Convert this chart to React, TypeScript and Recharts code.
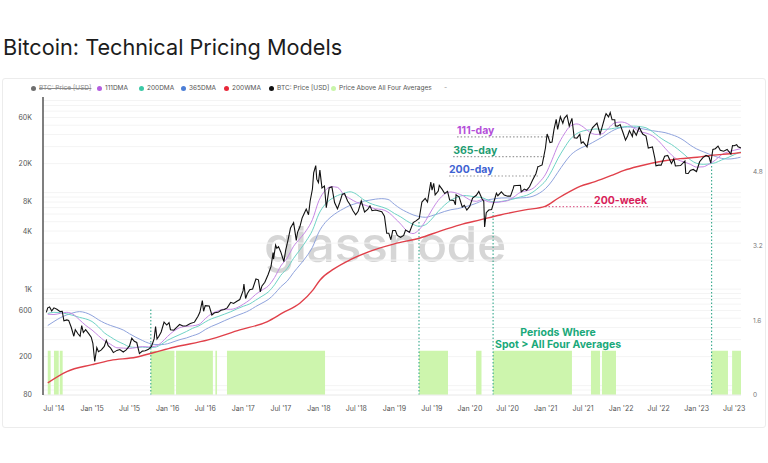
import React from 'react';
import {
  ComposedChart,
  Line,
  Area,
  XAxis,
  YAxis,
  CartesianGrid,
  ReferenceLine,
  ReferenceDot,
} from 'recharts';

const W = 768;
const H = 463;

const X_START = '2014-05-09';
const X_END = '2023-08-03';

const X_TICKS = [
  '2014-07-01', '2015-01-01', '2015-07-01', '2016-01-01', '2016-07-01', '2017-01-01', '2017-07-01',
  '2018-01-01', '2018-07-01', '2019-01-01', '2019-07-01', '2020-01-01', '2020-07-01', '2021-01-01',
  '2021-07-01', '2022-01-01', '2022-07-01', '2023-01-01', '2023-07-01',
];
const PRICE_TICKS = [80, 200, 600, 1000, 4000, 8000, 20000, 60000];
const IND_TICKS = [0, 1.6, 3.2, 4.8];
const GRID_VALUES = [
  80, 90, 100, 200, 300, 400, 500, 600, 700, 800, 900, 1000, 2000, 3000, 4000, 5000, 6000, 7000,
  8000, 9000, 10000, 20000, 30000, 40000, 50000, 60000, 70000, 80000, 90000,
];

// BTC daily-ish close
const priceSeries: [string, number][] = [
  ['2014-05-25', 575], ['2014-06-01', 640], ['2014-06-10', 655], ['2014-06-20', 595], ['2014-07-01', 640],
  ['2014-07-15', 620], ['2014-07-31', 585], ['2014-08-10', 590], ['2014-08-18', 470], ['2014-09-01', 480],
  ['2014-09-10', 475], ['2014-09-22', 405], ['2014-10-05', 325], ['2014-10-12', 380], ['2014-10-25', 345],
  ['2014-11-04', 325], ['2014-11-12', 420], ['2014-11-20', 355], ['2014-12-01', 380], ['2014-12-15', 348],
  ['2014-12-28', 318], ['2015-01-05', 275], ['2015-01-14', 178], ['2015-01-24', 248], ['2015-02-01', 225],
  ['2015-02-15', 235], ['2015-03-01', 255], ['2015-03-11', 295], ['2015-03-20', 260], ['2015-04-01', 245],
  ['2015-04-14', 220], ['2015-05-01', 232], ['2015-05-15', 237], ['2015-06-01', 223], ['2015-06-15', 235],
  ['2015-07-01', 258], ['2015-07-12', 310], ['2015-07-24', 288], ['2015-08-05', 280], ['2015-08-18', 215],
  ['2015-09-01', 228], ['2015-09-15', 230], ['2015-10-01', 238], ['2015-10-15', 255], ['2015-10-28', 305],
  ['2015-11-04', 410], ['2015-11-11', 305], ['2015-11-20', 325], ['2015-12-01', 360], ['2015-12-15', 455],
  ['2015-12-28', 425], ['2016-01-08', 450], ['2016-01-15', 380], ['2016-01-31', 375], ['2016-02-15', 405],
  ['2016-02-28', 430], ['2016-03-15', 415], ['2016-04-01', 418], ['2016-04-20', 440], ['2016-05-10', 455],
  ['2016-05-27', 525], ['2016-06-05', 575], ['2016-06-17', 760], ['2016-06-23', 590], ['2016-07-01', 675],
  ['2016-07-20', 670], ['2016-08-02', 540], ['2016-08-15', 570], ['2016-09-01', 575], ['2016-09-15', 605],
  ['2016-10-01', 615], ['2016-10-15', 640], ['2016-11-01', 730], ['2016-11-15', 710], ['2016-12-01', 750],
  ['2016-12-15', 780], ['2016-12-31', 965], ['2017-01-04', 1130], ['2017-01-12', 800], ['2017-01-20', 895],
  ['2017-02-01', 985], ['2017-02-15', 1005], ['2017-03-03', 1275], ['2017-03-15', 1250], ['2017-03-24', 940],
  ['2017-04-01', 1080], ['2017-04-15', 1180], ['2017-05-01', 1420], ['2017-05-15', 1720], ['2017-05-25', 2400],
  ['2017-05-27', 2050], ['2017-06-06', 2860], ['2017-06-12', 2650], ['2017-06-20', 2760], ['2017-07-01', 2430],
  ['2017-07-16', 1930], ['2017-07-25', 2550], ['2017-08-05', 3230], ['2017-08-17', 4300], ['2017-09-01', 4900],
  ['2017-09-14', 3200], ['2017-09-20', 3880], ['2017-10-01', 4400], ['2017-10-12', 5450], ['2017-10-21', 6000],
  ['2017-11-01', 6750], ['2017-11-12', 5900], ['2017-11-20', 8200], ['2017-12-01', 10900], ['2017-12-07', 16000],
  ['2017-12-17', 19100], ['2017-12-22', 13800], ['2017-12-30', 12700], ['2018-01-06', 17100], ['2018-01-16', 11200],
  ['2018-01-28', 11700], ['2018-02-06', 7000], ['2018-02-20', 11200], ['2018-03-05', 11500], ['2018-03-18', 7900],
  ['2018-04-01', 6800], ['2018-04-12', 7900], ['2018-04-24', 9600], ['2018-05-05', 9800], ['2018-05-20', 8200],
  ['2018-06-01', 7500], ['2018-06-15', 6500], ['2018-06-28', 5900], ['2018-07-10', 6400], ['2018-07-25', 8200],
  ['2018-08-10', 6300], ['2018-08-25', 6700], ['2018-09-05', 7300], ['2018-09-15', 6500], ['2018-10-01', 6600],
  ['2018-10-15', 6500], ['2018-11-01', 6350], ['2018-11-14', 5700], ['2018-11-25', 3800], ['2018-12-05', 3800],
  ['2018-12-15', 3250], ['2018-12-24', 4050], ['2019-01-06', 4050], ['2019-01-15', 3600], ['2019-01-31', 3450],
  ['2019-02-15', 3600], ['2019-02-24', 4100], ['2019-03-15', 3900], ['2019-04-02', 4900], ['2019-04-15', 5100],
  ['2019-05-01', 5400], ['2019-05-14', 8000], ['2019-05-30', 8700], ['2019-06-10', 8000], ['2019-06-26', 12900],
  ['2019-07-02', 10600], ['2019-07-10', 12500], ['2019-07-17', 9500], ['2019-08-01', 10400], ['2019-08-06', 11900],
  ['2019-08-20', 10800], ['2019-09-01', 9800], ['2019-09-15', 10300], ['2019-09-25', 8400], ['2019-10-15', 8300],
  ['2019-10-23', 7500], ['2019-10-26', 9500], ['2019-11-10', 9000], ['2019-11-25', 7100], ['2019-12-05', 7400],
  ['2019-12-17', 6600], ['2019-12-31', 7200], ['2020-01-14', 8800], ['2020-02-01', 9400], ['2020-02-13', 10300],
  ['2020-02-28', 8700], ['2020-03-08', 8100], ['2020-03-12', 4400], ['2020-03-20', 6200], ['2020-04-01', 6600],
  ['2020-04-15', 6700], ['2020-04-30', 8600], ['2020-05-08', 9900], ['2020-05-15', 9300], ['2020-06-01', 10200],
  ['2020-06-15', 9450], ['2020-07-01', 9200], ['2020-07-15', 9200], ['2020-07-28', 11000], ['2020-08-01', 11800],
  ['2020-08-15', 11850], ['2020-09-01', 11900], ['2020-09-05', 10200], ['2020-09-20', 10900], ['2020-10-01', 10600],
  ['2020-10-15', 11500], ['2020-10-30', 13500], ['2020-11-15', 15700], ['2020-11-25', 18700], ['2020-12-01', 18800],
  ['2020-12-15', 19400], ['2020-12-31', 29000], ['2021-01-08', 40500], ['2021-01-15', 36800], ['2021-01-22', 33000],
  ['2021-02-01', 33500], ['2021-02-10', 44800], ['2021-02-21', 57500], ['2021-02-28', 45200], ['2021-03-13', 61200],
  ['2021-03-25', 52300], ['2021-04-01', 59000], ['2021-04-14', 63500], ['2021-04-25', 49000], ['2021-05-08', 58800],
  ['2021-05-12', 49500], ['2021-05-19', 37000], ['2021-06-01', 36700], ['2021-06-15', 40200], ['2021-06-22', 32500],
  ['2021-07-01', 33600], ['2021-07-20', 29800], ['2021-08-01', 39900], ['2021-08-15', 47000], ['2021-09-06', 52700],
  ['2021-09-21', 40600], ['2021-10-01', 48000], ['2021-10-15', 61500], ['2021-10-20', 66000], ['2021-11-01', 61000],
  ['2021-11-09', 67500], ['2021-11-18', 56900], ['2021-12-01', 57000], ['2021-12-04', 49000], ['2021-12-15', 48900],
  ['2021-12-27', 50700], ['2022-01-10', 41800], ['2022-01-22', 35000], ['2022-02-01', 38700], ['2022-02-10', 44000],
  ['2022-02-24', 38300], ['2022-03-01', 44400], ['2022-03-15', 39300], ['2022-03-29', 47400], ['2022-04-15', 40500],
  ['2022-05-01', 38500], ['2022-05-12', 29000], ['2022-06-01', 29800], ['2022-06-13', 22500], ['2022-06-18', 19000],
  ['2022-07-01', 19300], ['2022-07-13', 19300], ['2022-07-30', 23800], ['2022-08-14', 24300], ['2022-09-01', 20100],
  ['2022-09-12', 22400], ['2022-09-20', 18900], ['2022-10-15', 19100], ['2022-11-05', 21300], ['2022-11-09', 15900],
  ['2022-11-21', 15800], ['2022-12-01', 17000], ['2022-12-15', 17400], ['2022-12-31', 16550], ['2023-01-15', 20900],
  ['2023-01-31', 23100], ['2023-02-15', 24300], ['2023-03-01', 23600], ['2023-03-10', 20200], ['2023-03-20', 28000],
  ['2023-04-01', 28500], ['2023-04-14', 30400], ['2023-04-25', 27500], ['2023-05-11', 26900], ['2023-05-28', 28000],
  ['2023-06-15', 25100], ['2023-06-23', 30700], ['2023-07-01', 30600], ['2023-07-13', 31400], ['2023-07-20', 29900],
  ['2023-07-31', 29200], ['2023-08-03', 29100],
];

// monthly samples for the daily moving averages
const maMonths = [
  '2014-06', '2014-07', '2014-08', '2014-09', '2014-10', '2014-11', '2014-12',
  '2015-01', '2015-02', '2015-03', '2015-04', '2015-05', '2015-06', '2015-07', '2015-08', '2015-09', '2015-10', '2015-11', '2015-12',
  '2016-01', '2016-02', '2016-03', '2016-04', '2016-05', '2016-06', '2016-07', '2016-08', '2016-09', '2016-10', '2016-11', '2016-12',
  '2017-01', '2017-02', '2017-03', '2017-04', '2017-05', '2017-06', '2017-07', '2017-08', '2017-09', '2017-10', '2017-11', '2017-12',
  '2018-01', '2018-02', '2018-03', '2018-04', '2018-05', '2018-06', '2018-07', '2018-08', '2018-09', '2018-10', '2018-11', '2018-12',
  '2019-01', '2019-02', '2019-03', '2019-04', '2019-05', '2019-06', '2019-07', '2019-08', '2019-09', '2019-10', '2019-11', '2019-12',
  '2020-01', '2020-02', '2020-03', '2020-04', '2020-05', '2020-06', '2020-07', '2020-08', '2020-09', '2020-10', '2020-11', '2020-12',
  '2021-01', '2021-02', '2021-03', '2021-04', '2021-05', '2021-06', '2021-07', '2021-08', '2021-09', '2021-10', '2021-11', '2021-12',
  '2022-01', '2022-02', '2022-03', '2022-04', '2022-05', '2022-06', '2022-07', '2022-08', '2022-09', '2022-10', '2022-11', '2022-12',
  '2023-01', '2023-02', '2023-03', '2023-04', '2023-05', '2023-06', '2023-07', '2023-08',
];

const dma111 = [
  550, 546, 562, 575, 550, 482, 422,
  377, 329, 293, 268, 247, 245, 243, 248, 254, 252, 256, 278,
  324, 369, 400, 412, 417, 431, 494, 558, 595, 620, 618, 641,
  698, 775, 879, 976, 1076, 1320, 1735, 2105, 2782, 3330, 4040, 5251,
  8235, 10550, 11535, 11350, 9595, 8662, 7973, 7549, 7176, 6800, 6695, 6295,
  5492, 4716, 4040, 3768, 4146, 5119, 6612, 8316, 9651, 10165, 9816, 9241,
  8395, 8130, 8473, 8030, 7914, 8051, 8257, 9038, 10084, 10446, 11086, 12781,
  15565, 21900, 30743, 40592, 49095, 51540, 48095, 42432, 40135, 40719, 46705, 52878,
  53935, 51824, 47068, 42932, 41419, 38854, 34359, 28905, 24584, 21932, 20843, 19681,
  18395, 18519, 19708, 21757, 24714, 26427, 27486, 28549,
];

const dma200 = [
  560, 575, 570, 555, 535, 510, 492,
  462, 406, 353, 319, 291, 271, 253, 249, 251, 248, 250, 267,
  295, 318, 339, 364, 393, 417, 457, 494, 520, 550, 583, 624,
  665, 703, 767, 844, 932, 1111, 1391, 1642, 2088, 2547, 3162, 4062,
  6009, 7591, 8567, 9327, 9836, 10203, 9652, 8576, 7833, 7424, 7112, 6712,
  6088, 5600, 5109, 4698, 4477, 4659, 5344, 6389, 7450, 8359, 8964, 9345,
  9224, 9009, 8867, 8285, 7976, 8106, 8330, 8612, 9033, 9379, 10155, 11436,
  13303, 17085, 22473, 29018, 35961, 41000, 43609, 44742, 45712, 45167, 45470, 46606,
  47664, 48618, 48924, 48361, 47000, 42924, 38136, 34394, 31573, 28324, 24970, 21936,
  20136, 19661, 19873, 20406, 21797, 23115, 24697, 26488,
];

const dma365 = [
  420, 462, 506, 541, 568, 585, 570,
  532, 482, 447, 420, 400, 377, 345, 317, 294, 276, 267, 266,
  272, 286, 300, 312, 329, 347, 381, 412, 439, 470, 502, 533,
  564, 605, 659, 716, 780, 895, 1059, 1212, 1489, 1780, 2160, 2717,
  3900, 4908, 5613, 6271, 6829, 7383, 7733, 8117, 8350, 8558, 8667, 8508,
  7567, 6792, 6308, 5888, 5654, 5554, 5763, 6054, 6388, 6654, 6813, 7063,
  7363, 7754, 8254, 8467, 8642, 8808, 8825, 8742, 8825, 8900, 9192, 9858,
  11058, 13233, 16258, 20258, 24408, 27550, 29742, 31800, 34617, 37542, 41342, 45008,
  47325, 47908, 47475, 46425, 45133, 43867, 42925, 41867, 39958, 37792, 34633, 31058,
  28350, 26575, 25125, 23717, 22667, 22308, 22583, 23292,
];

const wma200: [string, number][] = [
  ['2014-06-01', 107], ['2014-09-01', 140], ['2015-01-01', 165], ['2015-04-01', 183], ['2015-08-01', 197],
  ['2015-11-01', 222], ['2016-02-01', 250], ['2016-07-15', 298], ['2016-12-15', 378], ['2017-04-25', 459],
  ['2017-07-12', 570], ['2017-10-01', 714], ['2017-12-04', 982], ['2018-01-07', 1246], ['2018-03-15', 1620],
  ['2018-05-31', 2008], ['2018-09-01', 2450], ['2019-01-01', 2950], ['2019-05-05', 3390], ['2019-08-10', 4000],
  ['2019-11-14', 4640], ['2020-02-19', 5217], ['2020-05-26', 5870], ['2020-09-24', 6624], ['2020-12-29', 7200],
  ['2021-02-28', 8700], ['2021-04-29', 10300], ['2021-06-16', 11600], ['2021-08-28', 13000], ['2021-11-23', 15300],
  ['2022-01-15', 17000], ['2022-04-01', 18900], ['2022-07-22', 21300], ['2022-10-13', 22500], ['2023-01-03', 23300],
  ['2023-03-21', 24500], ['2023-06-11', 25300], ['2023-08-03', 26000],
];

// spans where price sat above all four averages
const aboveAllSpans: [string, string][] = [
  ['2014-06-01', '2014-06-15'], ['2014-07-01', '2014-07-24'], ['2014-07-29', '2014-08-12'],
  ['2015-10-12', '2016-02-03'], ['2016-02-11', '2016-08-07'], ['2016-08-19', '2016-08-27'],
  ['2016-10-14', '2018-01-31'], ['2019-04-30', '2019-09-17'], ['2020-01-31', '2020-02-26'],
  ['2020-04-22', '2021-05-08'], ['2021-08-08', '2021-09-21'], ['2021-09-30', '2021-12-07'],
  ['2023-03-14', '2023-06-01'], ['2023-06-21', '2023-08-03'],
];
const ABOVE_LEVEL = 0.95;

// dotted markers: [date, top price]
const breakoutLines: [string, number][] = [
  ['2015-10-12', 640], ['2019-04-30', 5100], ['2020-04-22', 6300], ['2023-03-14', 19300],
];

// horizontal callouts: label, colour, line colour, from, to, price, label date
const callouts: [string, string, string, string, string, number, string][] = [
  ['111-day', '#b44fd9', '#9a9a9a', '2019-10-31', '2021-02-01', 37800, '2019-10-31'],
  ['365-day', '#1e9c72', '#9a9a9a', '2019-10-12', '2020-12-29', 23600, '2019-10-12'],
  ['200-day', '#3f63d2', '#9a9a9a', '2019-09-22', '2020-12-05', 14900, '2019-09-22'],
  ['200-week', '#d81e5b', '#e06b95', '2020-12-29', '2022-05-16', 7170, '2021-08-23'],
];

const legendItems: [string, string, boolean][] = [
  ['BTC: Price [USD]', '#6f6f6f', true],
  ['111DMA', '#b45ee0', false],
  ['200DMA', '#3cc9a6', false],
  ['365DMA', '#4d7fd6', false],
  ['200WMA', '#e8283a', false],
  ['BTC: Price [USD]', '#111111', false],
  ['Price Above All Four Averages', '#c9f5a9', false],
];
const LEGEND_X = [33, 99, 141, 183, 226, 271, 333];

const toT = (s: string) => Date.parse(s.length === 7 ? s + '-01' : s);

const priceData = priceSeries.map(([s, v]) => ({ t: toT(s), v }));
const maData = maMonths.map((m, i) => ({ t: toT(m), a111: dma111[i], a200: dma200[i], a365: dma365[i] }));
const wmaData = wma200.map(([s, v]) => ({ t: toT(s), v }));
const aboveData = [{ t: toT(X_START), v: 0 }];
aboveAllSpans.forEach(([a, b]) => {
  aboveData.push({ t: toT(a), v: ABOVE_LEVEL });
  aboveData.push({ t: toT(b), v: 0 });
});

const fmtDate = (v: number) => {
  const dt = new Date(v);
  return `${dt.getUTCMonth() === 0 ? 'Jan' : 'Jul'} '${String(dt.getUTCFullYear()).slice(2)}`;
};
const fmtPrice = (v: number) => (v >= 1000 ? `${v / 1000}K` : `${v}`);

const axisTick = { fontSize: 7, fill: '#555' };

export default function App() {
  return (
    <div
      style={{
        position: 'relative',
        width: W,
        height: H,
        background: '#fff',
        overflow: 'hidden',
        fontFamily: 'Inter, "Noto Sans", sans-serif',
      }}
    >
      <style>{'body{margin:0}'}</style>
      <div
        style={{
          position: 'absolute',
          left: 3,
          top: 36,
          fontSize: 21.7,
          lineHeight: '22px',
          color: '#1c1c1c',
          whiteSpace: 'nowrap',
        }}
      >
        Bitcoin: Technical Pricing Models
      </div>

      {/* chart card */}
      <div
        style={{
          position: 'absolute',
          left: 2,
          top: 78,
          width: 764,
          height: 350,
          border: '1px solid #ececec',
          borderRadius: 3,
          boxSizing: 'border-box',
        }}
      />

      {/* legend */}
      {legendItems.map(([label, color, off], i) => (
        <div
          key={i}
          style={{
            position: 'absolute',
            left: LEGEND_X[i] - 2.5,
            top: 84,
            height: 8,
            display: 'flex',
            alignItems: 'center',
            fontSize: 6.5,
            color: off ? '#8a8a8a' : '#555',
            whiteSpace: 'nowrap',
          }}
        >
          <span
            style={{ width: 5, height: 5, borderRadius: '50%', background: color, marginRight: 3.5, flex: 'none' }}
          />
          <span style={{ textDecoration: off ? 'line-through' : 'none' }}>{label}</span>
        </div>
      ))}
      <div style={{ position: 'absolute', left: 444, top: 83, fontSize: 7, color: '#999' }}>-</div>

      {/* watermark */}
      <div
        style={{
          position: 'absolute',
          left: 264,
          top: 219,
          fontSize: 50,
          lineHeight: '50px',
          fontWeight: 500,
          color: '#d6d6d6',
          letterSpacing: -0.5,
        }}
      >
        glassnode
      </div>

      <div style={{ position: 'absolute', left: 0, top: 0 }}>
        <ComposedChart width={W} height={H} margin={{ top: 97, right: 0, bottom: 38, left: 0 }}>
          <CartesianGrid
            yAxisId="price"
            vertical={false}
            horizontalValues={GRID_VALUES}
            stroke="#f4f4f4"
          />
          <XAxis
            dataKey="t"
            type="number"
            domain={[toT(X_START), toT(X_END)]}
            allowDataOverflow
            ticks={X_TICKS.map(toT)}
            interval={0}
            tickFormatter={fmtDate}
            height={30}
            tickLine={false}
            tickSize={0}
            tickMargin={11}
            axisLine={{ stroke: '#eeeeee' }}
            tick={axisTick}
          />
          <YAxis
            yAxisId="price"
            scale="log"
            domain={[80, 98000]}
            allowDataOverflow
            ticks={PRICE_TICKS}
            interval={0}
            tickFormatter={fmtPrice}
            width={43}
            axisLine={{ stroke: '#555', strokeWidth: 1.5 }}
            tickLine={false}
            tickMargin={5}
            tick={axisTick}
          />
          <YAxis
            yAxisId="ind"
            orientation="right"
            domain={[0, 6.4]}
            ticks={IND_TICKS}
            interval={0}
            width={27}
            axisLine={false}
            tickLine={false}
            tickMargin={6}
            tick={{ fontSize: 6.5, fill: '#777' }}
          />

          <Area
            yAxisId="ind"
            data={aboveData}
            dataKey="v"
            type="stepAfter"
            fill="#cdf5ad"
            fillOpacity={1}
            stroke="none"
            isAnimationActive={false}
          />

          {breakoutLines.map(([s, top]) => (
            <ReferenceLine
              key={s}
              yAxisId="price"
              segment={[{ x: toT(s), y: 80 }, { x: toT(s), y: top }]}
              stroke="#35a88c"
              strokeWidth={1.1}
              strokeDasharray="1.5 2"
            />
          ))}
          {callouts.map(([label, , lineColor, from, to, v]) => (
            <ReferenceLine
              key={label}
              yAxisId="price"
              segment={[{ x: toT(from), y: v }, { x: toT(to), y: v }]}
              stroke={lineColor}
              strokeWidth={1.1}
              strokeDasharray="1.5 2"
            />
          ))}

          <Line yAxisId="price" data={maData} dataKey="a365" type="monotone" stroke="#8fa3dd" strokeWidth={1} dot={false} isAnimationActive={false} />
          <Line yAxisId="price" data={maData} dataKey="a200" type="monotone" stroke="#6fd3c6" strokeWidth={1} dot={false} isAnimationActive={false} />
          <Line yAxisId="price" data={maData} dataKey="a111" type="monotone" stroke="#c688e4" strokeWidth={1} dot={false} isAnimationActive={false} />
          <Line yAxisId="price" data={wmaData} dataKey="v" type="monotone" stroke="#e0404a" strokeWidth={1.4} dot={false} isAnimationActive={false} />
          <Line yAxisId="price" data={priceData} dataKey="v" type="linear" stroke="#111" strokeWidth={1.1} dot={false} isAnimationActive={false} />

          {callouts.map(([label, color, , , , v, at]) => (
            <ReferenceDot
              key={'t' + label}
              yAxisId="price"
              x={toT(at)}
              y={v}
              r={0}
              shape={(p: any) => (
                <text x={p.cx} y={p.cy - 2.5} fill={color} fontSize={10.5} fontWeight={700}>
                  {label}
                </text>
              )}
            />
          ))}
          <ReferenceDot
            yAxisId="price"
            x={toT('2021-03-02')}
            y={314}
            r={0}
            shape={(p: any) => (
              <text x={p.cx} y={p.cy} fill="#1aa97a" fontSize={10.5} fontWeight={700} textAnchor="middle">
                <tspan x={p.cx} dy={-2}>Periods Where</tspan>
                <tspan x={p.cx} dy={12}>{'Spot > All Four Averages'}</tspan>
              </text>
            )}
          />
        </ComposedChart>
      </div>
    </div>
  );
}
